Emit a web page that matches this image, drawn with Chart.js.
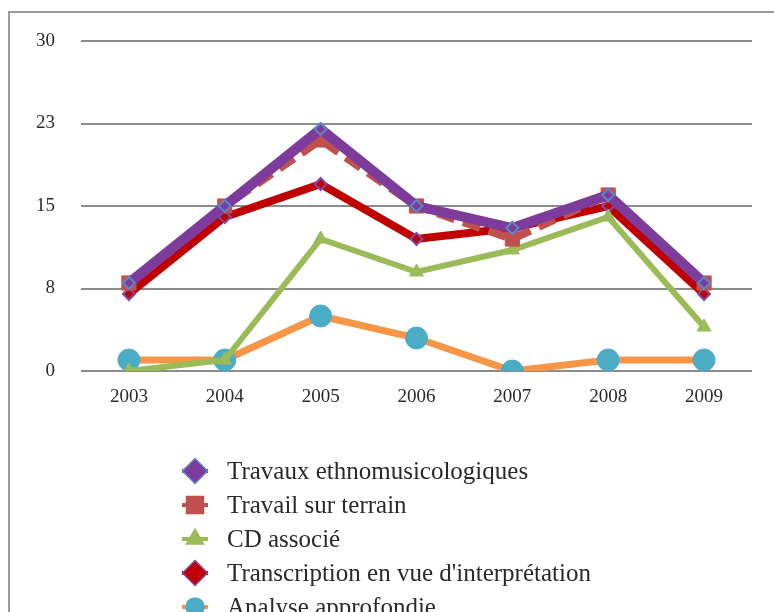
<!DOCTYPE html>
<html>
<head>
<meta charset="utf-8">
<script src="https://cdn.jsdelivr.net/npm/chart.js@4/dist/chart.umd.min.js"></script>
<style>
html,body{margin:0;padding:0;background:#fff;}
#wrap{position:absolute;left:0;top:0;width:774px;height:612px;}
</style>
</head>
<body>
<div id="wrap"><canvas id="c" width="774" height="612"></canvas></div>
<script>
const years = ['2003','2004','2005','2006','2007','2008','2009'];
const seriesLabels = ['Travaux ethnomusicologiques','Travail sur terrain','CD associé',"Transcription en vue d'interprétation",'Analyse approfondie'];
const travaux = [8, 15, 22, 15, 13, 16, 8];
const terrain = [8, 15, 21, 15, 12, 16, 8];
const cdAssocie = [0, 1, 12, 9, 11, 14, 4];
const transcription = [7, 14, 17, 12, 13, 15, 7];
const analyse = [1, 1, 5, 3, 0, 1, 1];
const yTicks = [0, 7.5, 15, 22.5, 30];

const FONT = '"Liberation Serif", "DejaVu Serif", serif';

const styles = [
  {borderColor:'#7D3C9C', lineWidth:10, pointStyle:'rectRot', r:6, fill:'#7D3C9C', stroke:'#5B86C4', bw:2, legR:12.5},
  {borderColor:'#C0504D', lineWidth:8, dash:[18,9], pointStyle:'rect', r:10, fill:'#C0504D', stroke:'#C0504D', bw:1, legR:12},
  {borderColor:'#9BBB59', lineWidth:6, pointStyle:'triangle', r:8, fill:'#9BBB59', stroke:'#9BBB59', bw:1, legR:10},
  {borderColor:'#C00000', lineWidth:8, pointStyle:'rectRot', r:6, fill:'#C00000', stroke:'#7B4FA8', bw:2, legR:12.5},
  {borderColor:'#F79646', lineWidth:7, pointStyle:'circle', r:11, fill:'#4BACC6', stroke:'#4BACC6', bw:1, legR:9}
];
const values = [travaux, terrain, cdAssocie, transcription, analyse];

const datasets = values.map((v,i)=>({
  label: seriesLabels[i],
  data: v,
  borderColor: styles[i].borderColor,
  borderWidth: styles[i].lineWidth,
  borderDash: styles[i].dash || [],
  pointStyle: styles[i].pointStyle,
  pointRadius: styles[i].r,
  pointBackgroundColor: styles[i].fill,
  pointBorderColor: styles[i].stroke,
  pointBorderWidth: styles[i].bw,
  tension: 0,
  fill: false
}));

const frameAndLegend = {
  id:'frameAndLegend',
  beforeDraw(chart){
    const ctx = chart.ctx;
    ctx.save();
    ctx.strokeStyle = '#9a9a9a';
    ctx.lineWidth = 2;
    ctx.beginPath();
    ctx.moveTo(9, 612);
    ctx.lineTo(9, 12);
    ctx.lineTo(774, 12);
    ctx.stroke();
    ctx.restore();
  },
  afterDraw(chart){
    const ctx = chart.ctx;
    const rows = [471, 505, 539, 573, 607];
    ctx.save();
    chart.data.datasets.forEach((ds,i)=>{
      const y = rows[i];
      const cx = 195;
      ctx.strokeStyle = ds.borderColor;
      ctx.lineWidth = 4;
      ctx.setLineDash([]);
      ctx.beginPath();
      ctx.moveTo(cx-13, y);
      ctx.lineTo(cx+13, y);
      ctx.stroke();
      ctx.fillStyle = ds.pointBackgroundColor;
      ctx.strokeStyle = ds.pointBorderColor;
      ctx.lineWidth = 1.5;
      Chart.helpers.drawPoint(ctx, {pointStyle: ds.pointStyle, radius: styles[i].legR, rotation: 0, borderWidth: 1.5}, cx, y);
      ctx.fillStyle = '#2a2a2a';
      ctx.font = '25px ' + FONT;
      ctx.textBaseline = 'middle';
      ctx.textAlign = 'left';
      ctx.fillText(ds.label, 227, y + 1);
    });
    ctx.restore();
  }
};

new Chart(document.getElementById('c'), {
  type: 'line',
  data: { labels: years, datasets },
  options: {
    responsive: false,
    animation: false,
    layout: { padding: { top: 41, right: 22, bottom: 201, left: 0 } },
    plugins: { legend: { display: false }, tooltip: { enabled: false } },
    scales: {
      x: {
        offset: true,
        grid: { display: false, drawTicks: false },
        border: { display: false },
        ticks: { color: '#2a2a2a', font: { family: FONT, size: 19 }, padding: 15 },
        afterFit(s){ s.height = 40; }
      },
      y: {
        min: 0, max: 30,
        afterBuildTicks(s){ s.ticks = yTicks.map(v=>({value:v})); },
        grid: { color: '#8c8c8c', lineWidth: 2, drawTicks: false },
        border: { display: false },
        ticks: { color: '#2a2a2a', font: { family: FONT, size: 19 }, padding: 26,
                 callback: v => String(Math.round(v)) },
        afterFit(s){ s.width = 81; }
      }
    }
  },
  plugins: [frameAndLegend]
});
</script>
</body>
</html>
